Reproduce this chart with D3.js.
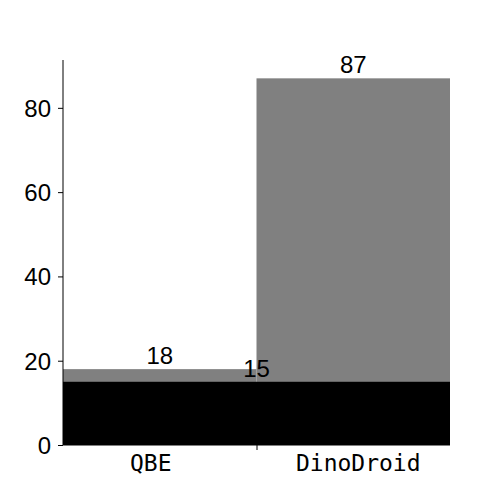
<!DOCTYPE html>
<html>
<head>
<meta charset="utf-8">
<script src="https://cdn.jsdelivr.net/npm/d3@7"></script>
<style>
  body { margin: 0; background: #fff; }
  text { font-family: "Liberation Sans", Arial, sans-serif; }
</style>
</head>
<body>
<script>
// Data
const categories = ["QBE", "DinoDroid"];
const totals = [18, 87];
const shared = [15];          // black bar across both tools
const labelShift = [-9, 5];   // tick label nudges seen in the original

const margin = {top: 60, right: 50, bottom: 55, left: 63},
    width = 500 - margin.left - margin.right,
    height = 500 - margin.top - margin.bottom;

const svg = d3.select("body").append("svg")
    .attr("width", 500)
    .attr("height", 500);

const g = svg.append("g")
    .attr("transform", `translate(${margin.left},${margin.top})`);

let x = d3.scaleLinear().domain([-0.5, 1.5]).range([0, width]);
let y = d3.scaleLinear().domain([0, d3.max(totals) * 1.05]).range([height, 0]);

// gray bars, one per tool
g.selectAll("rect.total")
    .data(totals)
    .join("rect")
    .attr("class", "total")
    .attr("x", (d, i) => x(i - 0.5))
    .attr("width", x(1) - x(0))
    .attr("y", d => y(d))
    .attr("height", d => y(0) - y(d))
    .style("fill", "#808080");

// black bar centred between the two tools, two units wide
g.selectAll("rect.shared")
    .data(shared)
    .join("rect")
    .attr("class", "shared")
    .attr("x", x(-0.5))
    .attr("width", x(1.5) - x(-0.5))
    .attr("y", d => y(d))
    .attr("height", d => y(0) - y(d))
    .style("fill", "#000");

// value labels
g.selectAll("text.total")
    .data(totals)
    .join("text")
    .attr("class", "total")
    .attr("x", (d, i) => x(i))
    .attr("y", d => y(d) - 5)
    .attr("text-anchor", "middle")
    .style("font-size", "24px")
    .text(d => d);

g.selectAll("text.shared")
    .data(shared)
    .join("text")
    .attr("class", "shared")
    .attr("x", x(0.5))
    .attr("y", d => y(d) - 5)
    .attr("text-anchor", "middle")
    .style("font-size", "24px")
    .text(d => d);

// y axis
const yAxis = g.append("g")
    .call(d3.axisLeft(y).tickValues([0, 20, 40, 60, 80]).tickSize(5).tickPadding(7));
yAxis.select(".domain").attr("d", `M0,${y.range()[1]}V${height}`);
yAxis.selectAll("text")
    .style("font-size", "24px")
    .style("font-family", "'Liberation Sans', Arial, sans-serif")
    .attr("dy", "0.35em");

// x axis: only the middle tick is marked
const xAxis = g.append("g")
    .attr("transform", `translate(0,${height})`)
    .call(d3.axisBottom(x).tickValues([0.5]).tickFormat("").tickSize(5));
xAxis.select(".domain").attr("d", `M0,0H${width}`);

g.selectAll("text.cat")
    .data(categories)
    .join("text")
    .attr("class", "cat")
    .attr("x", (d, i) => x(i) + labelShift[i])
    .attr("y", height + 26)
    .attr("text-anchor", "middle")
    .style("font-family", "'DejaVu Sans Mono', monospace")
    .style("font-size", "23px")
    .text(d => d);
</script>
</body>
</html>
